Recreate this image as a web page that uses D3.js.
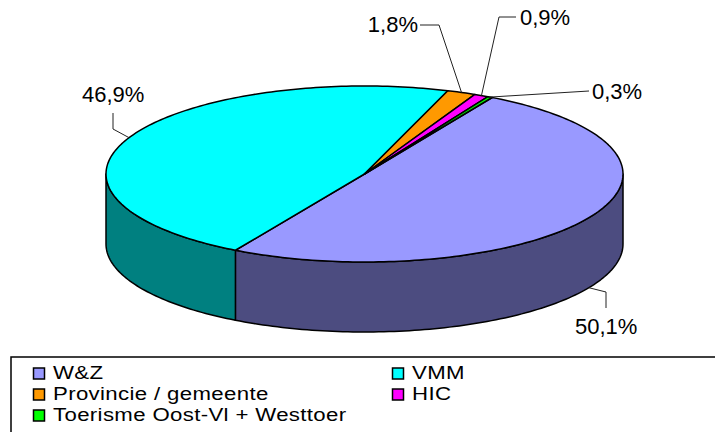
<!DOCTYPE html>
<html>
<head>
<meta charset="utf-8">
<script src="https://cdn.jsdelivr.net/npm/d3@7"></script>
<style>
  body { margin: 0; background: #fff; }
  svg { display: block; }
  text { font-family: "Liberation Sans", Arial, sans-serif; fill: #000; }
</style>
</head>
<body>
<svg id="chart" width="715" height="432"></svg>
<script>
// data
const categories = ["W&Z", "VMM", "Provincie / gemeente", "HIC", "Toerisme Oost-Vl + Westtoer"];
const shares = [50.1, 46.9, 1.8, 0.9, 0.3];
const shareLabels = ["50,1%", "46,9%", "1,8%", "0,9%", "0,3%"];
const topColors = ["#9999ff", "#00ffff", "#ff9900", "#ff00ff", "#00ff00"];
const sideColors = ["#4c4c80", "#008080", "#804c00", "#800080", "#008000"];

// layout of the 3d pie
const svg = d3.select("#chart");
const cx = 364.5, cy = 174, rx = 258.5, ry = 88, depth = 70;
const rotation = 29.6 * Math.PI / 180;

// where excel put the labels (elbows of the leader + text spot)
const labelLayout = [
  { bend: [[606, 292], [606, 308]], x: 575, y: 334, anchor: "start" },
  { bend: [[113, 129], [113, 113]], x: 82, y: 102, anchor: "start" },
  { bend: [[439, 25], [420, 25]], x: 418, y: 32, anchor: "end" },
  { bend: [[499, 17], [516, 17]], x: 520, y: 25, anchor: "start" },
  { bend: [[589, 91]], x: 592, y: 99, anchor: "start" }
];

const pie = d3.pie().sort(null)
    .startAngle(rotation)
    .endAngle(rotation + 2 * Math.PI);
const slices = pie(shares);

var pt = (a, dy) => [cx + rx * Math.sin(a), cy - ry * Math.cos(a) + (dy || 0)];
var line = d3.line();

function arcPts(a0, a1, dy) {
    const n = Math.max(2, Math.ceil(Math.abs(a1 - a0) / 0.02));
    return d3.range(n + 1).map(i => pt(a0 + (a1 - a0) * i / n, dy));
}

// side walls: only the front half (90deg .. 270deg) can be seen
const front0 = Math.PI / 2, front1 = 3 * Math.PI / 2;
const sides = svg.append("g")
    .attr("stroke", "#000")
    .attr("stroke-width", 1.5)
    .attr("stroke-linejoin", "round");

slices.forEach((d, i) => {
    for (let k = -1; k <= 1; k++) {
        const off = k * 2 * Math.PI;
        const b0 = Math.max(d.startAngle, front0 + off);
        const b1 = Math.min(d.endAngle, front1 + off);
        if (b1 <= b0) continue;
        const pts = arcPts(b0, b1, 0).concat(arcPts(b1, b0, depth));
        sides.append("path")
            .attr("d", line(pts) + "Z")
            .attr("fill", sideColors[i]);
    }
});

// top faces
svg.append("g")
    .attr("stroke", "#000")
    .attr("stroke-width", 1.5)
    .attr("stroke-linejoin", "round")
  .selectAll("path")
  .data(slices)
  .enter().append("path")
    .attr("d", d => line([[cx, cy]].concat(arcPts(d.startAngle, d.endAngle, 0))) + "Z")
    .attr("fill", (d, i) => topColors[i]);

// leader lines + percent labels
const labels = svg.append("g");
slices.forEach((d, i) => {
    const mid = (d.startAngle + d.endAngle) / 2;
    const c = Math.cos(mid);
    // front slices get their leader on the lower rim
    const anchor = pt(mid, c < 0 ? depth : 0);
    const L = labelLayout[i];
    labels.append("path")
        .attr("d", line([anchor].concat(L.bend)))
        .attr("fill", "none")
        .attr("stroke", "#222")
        .attr("stroke-width", 1);
    labels.append("text")
        .attr("x", L.x)
        .attr("y", L.y)
        .attr("text-anchor", L.anchor)
        .style("font-size", "22px")
        .text(shareLabels[i]);
});

// legend
const legend = svg.append("g");
legend.append("rect")
    .attr("x", 11).attr("y", 357)
    .attr("width", 720).attr("height", 100)
    .attr("fill", "#fff")
    .attr("stroke", "#000")
    .attr("stroke-width", 1.5);

const colX = [33, 392], rowY = [379, 400, 421];
const item = legend.selectAll("g.item")
  .data(categories)
  .enter().append("g")
    .attr("class", "item")
    .attr("transform", (d, i) => `translate(${colX[i % 2]},${rowY[Math.floor(i / 2)]})`);

item.append("rect")
    .attr("x", 0.5).attr("y", -11)
    .attr("width", 11).attr("height", 11)
    .attr("fill", (d, i) => topColors[i])
    .attr("stroke", "#000")
    .attr("stroke-width", 1.5);

// excel's legend font is wide, so stretch it a bit sideways
item.append("text")
    .attr("transform", "translate(20,0) scale(1.2,1)")
    .style("font-size", "18.5px")
    .style("letter-spacing", "0.3px")
    .text(d => d);
</script>
</body>
</html>
